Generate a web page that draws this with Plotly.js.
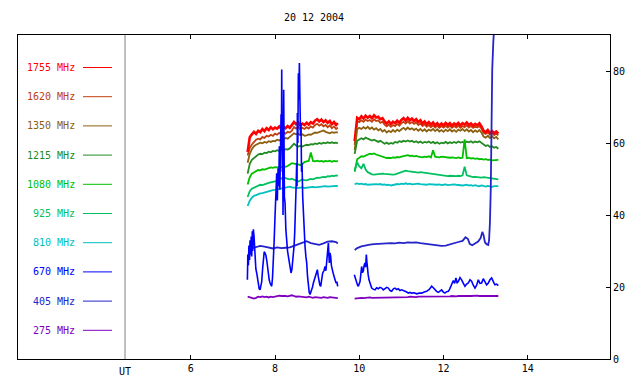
<!DOCTYPE html>
<html><head><meta charset="utf-8">
<script src="https://cdn.plot.ly/plotly-3.0.1.min.js"></script>
<style>html,body{margin:0;padding:0;background:#fff}#c{width:640px;height:384px}</style>
</head><body><div id="c"></div>
<script>
// time grids (hours UT)
const T1 = [7.35,7.40,7.45,7.50,7.55,7.60,7.65,7.70,7.75,7.80,7.85,7.90,7.95,8.00,8.05,8.10,8.15,8.20,8.25,8.30,8.35,8.40,8.45,8.50,8.55,8.60,8.65,8.70,8.75,8.80,8.85,8.90,8.95,9.00,9.05,9.10,9.15,9.20,9.25,9.30,9.35,9.40,9.45,9.49];
const T2 = [9.89,9.95,10.00,10.05,10.10,10.15,10.20,10.25,10.30,10.35,10.40,10.45,10.50,10.55,10.60,10.65,10.70,10.75,10.80,10.85,10.90,10.95,11.00,11.05,11.10,11.15,11.20,11.25,11.30,11.35,11.40,11.45,11.50,11.55,11.60,11.65,11.70,11.75,11.80,11.85,11.90,11.95,12.00,12.05,12.10,12.15,12.20,12.25,12.30,12.35,12.40,12.45,12.50,12.55,12.60,12.65,12.70,12.75,12.80,12.85,12.90,12.95,13.00,13.05,13.10,13.15,13.20,13.25,13.30];

const f1755a = [57.5,61.6,62.4,63.1,62.5,63.4,63.0,63.9,63.3,64.1,63.6,64.4,63.8,64.3,64.0,64.6,63.9,64.5,64.1,64.7,64.2,64.9,65.8,65.2,65.7,64.9,65.4,65.0,65.6,65.1,65.8,65.4,66.2,66.6,66.0,66.5,65.8,66.3,65.6,66.1,65.2,65.8,65.0,65.5];
const f1755b = [60.5,67.0,66.6,67.4,66.8,67.6,67.0,67.5,66.9,67.7,67.1,67.3,66.6,66.9,66.0,65.4,66.0,65.3,65.9,65.5,66.2,65.6,66.4,66.9,66.2,67.0,66.3,66.8,66.1,66.6,65.8,66.3,65.4,66.0,65.2,65.8,65.1,65.7,64.9,65.5,64.8,65.4,64.9,65.6,65.0,65.5,64.8,65.4,65.0,65.6,64.9,65.5,65.1,65.7,65.0,65.4,64.8,65.3,64.9,65.5,64.6,63.4,63.0,63.6,62.8,63.3,62.7,63.2,62.6];

const f1620a = [56.5,58.6,59.6,60.4,60.9,61.2,61.0,61.7,61.4,62.0,61.8,62.3,62.0,62.6,62.3,62.8,62.4,63.0,62.6,63.1,62.9,63.4,64.4,64.0,64.5,63.8,64.2,63.9,64.4,64.0,64.6,64.3,65.0,65.3,64.8,65.2,64.6,65.0,64.4,64.9,64.1,64.6,63.9,64.3];
const f1620b = [59.5,66.0,65.8,66.3,65.9,66.5,66.1,66.4,65.9,66.6,66.1,66.3,65.6,65.9,65.1,64.6,65.1,64.5,65.0,64.7,65.3,64.8,65.5,65.9,65.4,66.0,65.4,65.8,65.3,65.7,65.0,65.4,64.7,65.2,64.5,65.0,64.4,64.9,64.3,64.8,64.2,64.7,64.3,64.8,64.3,64.8,64.2,64.7,64.3,64.8,64.2,64.7,64.4,64.9,64.3,64.7,64.2,64.6,64.3,64.7,64.0,62.8,62.5,63.0,62.3,62.8,62.2,62.6,62.1];

const f1350a = [54.5,57.0,58.3,59.1,59.5,59.8,60.1,59.9,60.3,60.1,60.5,60.3,60.6,60.5,60.9,60.7,61.1,61.0,61.4,61.2,61.6,62.2,62.7,62.4,62.6,62.2,62.4,62.0,62.1,62.4,62.3,62.7,62.9,62.8,63.1,63.3,63.5,63.1,62.9,62.7,63.0,62.8,63.0,62.9];
const f1350b = [58.0,63.8,64.2,63.9,64.4,64.0,64.5,63.9,64.3,63.7,64.1,63.5,63.9,63.2,63.6,62.9,63.4,63.0,63.6,63.1,63.7,63.3,63.8,64.2,63.7,64.3,63.8,64.1,63.6,64.0,63.4,63.9,63.3,63.8,63.2,63.7,63.4,63.9,63.3,63.8,63.2,63.6,63.1,63.7,63.3,63.8,63.2,63.6,63.1,63.7,63.4,63.9,63.3,63.8,63.2,63.6,63.0,63.5,63.1,63.6,62.9,61.8,61.5,62.0,61.4,61.9,61.3,61.7,61.0];

const f1215a = [51.5,54.2,55.3,55.9,56.4,56.8,57.0,56.9,57.3,57.2,57.6,57.4,57.8,57.7,58.0,57.8,58.1,58.0,58.3,58.2,58.5,59.1,59.8,59.3,59.0,59.2,59.0,59.3,59.5,59.4,59.7,59.6,59.9,59.7,60.0,59.8,60.1,59.9,60.2,60.0,60.2,60.0,60.1,59.9];
const f1215b = [57.0,60.6,61.0,61.3,61.0,61.5,61.2,61.0,60.7,60.9,60.5,60.3,60.6,60.1,59.8,60.1,59.7,60.0,59.8,60.3,60.1,60.5,60.3,60.6,60.4,60.7,60.4,60.6,60.2,60.5,60.1,60.4,60.0,60.3,60.1,60.4,60.0,60.3,59.9,60.2,59.8,60.1,59.9,60.3,59.9,60.2,60.0,60.3,60.0,60.4,60.1,60.3,60.0,60.4,60.2,60.5,60.1,60.4,60.2,60.5,60.0,59.6,59.2,59.4,58.9,59.1,58.7,58.9,58.4];

const f1080a = [48.5,50.5,51.5,51.9,52.2,52.5,52.4,52.7,52.6,52.9,53.0,53.2,53.1,53.3,53.2,53.4,53.3,53.5,53.4,53.6,53.9,54.4,54.3,54.1,54.0,53.9,54.2,54.7,54.9,55.0,57.4,55.0,54.9,55.1,54.9,55.0,54.8,55.0,54.9,55.1,54.8,55.0,54.9,55.0];
const f1080b = [52.0,55.5,55.9,56.3,56.2,56.5,56.7,57.0,56.9,57.1,56.8,56.6,56.4,56.1,55.9,55.8,55.9,55.8,56.0,55.9,56.1,56.0,56.2,56.4,56.5,56.6,56.4,56.5,56.3,56.4,56.2,56.1,56.0,56.2,56.1,56.3,56.0,58.0,56.2,56.1,56.0,56.2,56.1,56.0,56.1,55.9,56.0,55.9,55.8,56.0,55.8,55.9,61.0,55.8,55.9,55.7,55.8,55.6,55.7,55.5,55.6,55.4,55.5,55.3,55.4,55.2,55.3,55.2,55.3];

const f925a = [45.0,46.6,47.3,47.6,47.9,48.1,48.4,48.3,48.6,48.7,48.9,49.0,49.2,49.3,49.5,49.8,50.2,50.1,50.3,50.0,49.9,50.1,49.8,49.5,49.3,49.6,49.9,49.7,49.6,49.8,50.0,49.9,50.2,50.4,50.3,50.5,50.6,50.5,50.8,50.7,50.9,50.8,51.0,50.9];
const f925b = [52.4,54.6,53.5,53.0,54.2,52.6,51.9,51.5,51.3,51.2,51.3,51.4,51.3,51.5,51.4,51.3,51.2,51.3,51.2,51.3,51.5,51.7,51.9,52.1,52.3,52.2,52.1,52.2,52.0,51.9,51.8,51.9,51.8,51.7,51.6,51.7,51.5,51.4,51.2,51.1,51.0,50.9,51.0,50.9,50.8,50.9,50.8,50.9,50.8,50.9,50.8,51.0,53.4,51.0,50.8,50.6,50.5,50.6,50.5,50.6,50.4,50.5,50.4,50.3,50.4,50.2,50.1,50.0,49.9];

const f810a = [42.5,44.0,44.8,45.3,45.5,45.8,46.0,46.1,46.3,46.4,46.6,46.7,46.9,47.0,47.1,47.3,47.4,47.5,47.7,47.8,47.9,47.7,47.6,47.7,47.5,47.6,47.7,47.5,47.6,47.7,47.6,47.8,47.7,47.8,47.9,47.8,47.9,48.0,47.9,48.0,48.1,48.0,48.1,48.0];
const f810b = [48.6,48.8,48.6,48.7,48.5,48.6,48.4,48.5,48.6,48.7,48.6,48.5,48.6,48.4,48.5,48.3,48.4,48.2,48.4,48.5,48.6,48.5,48.7,48.6,48.8,48.6,48.7,48.5,48.6,48.5,48.7,48.6,48.5,48.6,48.4,48.6,48.5,48.6,48.5,48.4,48.5,48.3,48.4,48.5,48.3,48.4,48.3,48.5,48.4,48.3,48.4,48.2,48.3,48.4,48.2,48.3,48.1,48.3,48.1,48.0,48.2,48.0,47.9,48.1,48.0,47.8,48.0,47.9,48.0];

const f275a = [17.3,17.1,16.9,16.8,17.0,17.3,17.2,17.4,17.2,17.3,17.1,17.3,17.2,17.4,17.5,17.6,17.5,17.6,17.5,17.4,17.6,17.7,17.5,17.3,17.4,17.3,17.1,17.2,17.1,17.3,17.2,17.0,17.2,17.1,17.2,17.0,17.2,17.1,17.0,17.2,17.1,16.9,17.0,16.9];
const f275b = [16.8,16.9,16.9,17.0,16.9,17.0,17.0,17.1,17.0,17.0,17.1,17.0,17.1,17.1,17.0,17.1,17.2,17.1,17.1,17.2,17.1,17.2,17.2,17.1,17.2,17.2,17.3,17.2,17.3,17.2,17.3,17.3,17.2,17.3,17.4,17.3,17.3,17.4,17.3,17.4,17.3,17.4,17.4,17.3,17.4,17.4,17.5,17.4,17.4,17.5,17.4,17.5,17.5,17.4,17.5,17.5,17.6,17.5,17.6,17.5,17.5,17.6,17.5,17.5,17.6,17.5,17.5,17.4,17.5];

const t405a = [7.35,7.40,7.45,7.55,7.65,7.75,7.85,7.95,8.05,8.15,8.25,8.35,8.45,8.55,8.65,8.75,8.85,8.95,9.05,9.15,9.25,9.35,9.45,9.49];
const f405a = [28.0,30.0,30.8,31.2,31.4,31.2,31.0,30.7,31.0,30.8,30.9,31.0,31.4,31.8,32.4,32.7,32.2,32.0,31.7,32.1,32.6,32.7,32.5,32.1];
const t405b = [9.89,9.95,10.05,10.15,10.25,10.35,10.45,10.55,10.65,10.75,10.85,10.95,11.05,11.15,11.25,11.35,11.45,11.55,11.65,11.75,11.85,11.95,12.05,12.15,12.25,12.35,12.45,12.52,12.58,12.62,12.68,12.75,12.82,12.88,12.92,12.95,12.98,13.02,13.06,13.08,13.10,13.12,13.14,13.155,13.18,13.20,13.24,13.28,13.30];
const f405b = [30.3,30.8,31.3,31.6,31.8,31.9,32.0,31.9,32.0,32.2,32.1,32.3,32.2,32.4,32.3,32.4,32.2,32.0,31.8,31.6,31.5,31.4,31.5,31.9,32.3,32.5,32.8,33.8,33.3,32.0,31.6,32.0,32.6,33.6,35.3,34.4,32.5,31.9,31.7,33.0,37.8,47.0,74.0,80.4,87.9,94,100,98,96];

const t670a = [7.344,7.355,7.368,7.38,7.395,7.407,7.42,7.435,7.447,7.46,
7.47,7.486,7.502,7.515,7.526,7.545,7.565,7.585,7.605,7.625,
7.645,7.665,7.684,7.705,7.724,7.743,7.763,7.783,7.803,7.822,
7.842,7.862,7.882,7.90,7.921,7.94,7.961,7.98,8.000,8.02,
8.040,8.055,8.072,8.088,8.103,8.115,8.127,8.135,8.143,8.151,
8.159,8.167,8.174,8.182,8.19,8.198,8.206,8.214,8.222,8.238,
8.257,8.277,8.297,8.317,8.337,8.356,8.38,8.40,8.42,8.436,
8.451,8.467,8.483,8.498,8.514,8.522,8.53,8.542,8.554,8.566,
8.578,8.586,8.593,8.605,8.617,8.629,8.641,8.657,8.673,8.692,
8.712,8.732,8.752,8.771,8.791,8.811,8.831,8.85,8.87,8.89,
8.91,8.94,8.973,9.005,9.025,9.044,9.064,9.084,9.108,9.131,
9.16,9.187,9.207,9.226,9.246,9.266,9.278,9.289,9.305,9.321,
9.337,9.353,9.376,9.40,9.424,9.448,9.468,9.487];
const f670a = [22.0,29.0,26.0,31.5,27.5,33.0,29.0,34.0,28.5,35.5,
30.0,36.0,34.0,30.0,27.6,25.0,23.9,22.0,21.1,19.5,
19.2,20.0,21.5,25.0,28.5,29.8,29.4,28.8,27.5,25.5,
23.9,22.0,21.1,20.5,20.2,22.5,26.7,33.0,39.6,46.0,
51.6,44.0,53.0,48.0,59.1,47.0,56.0,50.0,68.0,58.0,
80.4,62.0,52.0,58.0,40.0,55.0,74.8,60.0,45.0,43.3,
36.0,32.2,30.0,28.5,27.0,25.7,23.9,24.8,26.7,28.5,
31.3,35.0,39.6,47.0,54.4,48.0,68.3,60.0,79.4,72.0,
82.2,70.0,74.8,62.0,65.5,52.0,54.4,45.0,39.6,35.0,
31.3,28.5,26.7,23.0,20.2,18.5,17.9,18.5,19.2,20.0,
21.1,22.5,23.9,24.8,23.0,21.1,20.5,20.2,22.0,23.9,
24.5,25.7,24.5,26.7,29.0,32.2,29.0,26.7,29.5,28.5,
26.0,24.8,24.0,23.0,22.0,21.1,21.5,20.2];
const t670b = [9.882,9.91,9.938,9.958,9.977,9.997,10.017,10.036,10.056,10.076,
10.096,10.115,10.135,10.15,10.167,10.18,10.191,10.21,10.23,10.26,
10.294,10.33,10.373,10.41,10.452,10.49,10.531,10.57,10.61,10.65,
10.689,10.73,10.768,10.81,10.847,10.89,10.926,10.965,11.005,11.045,
11.085,11.125,11.164,11.2,11.243,11.3,11.361,11.42,11.48,11.54,
11.599,11.66,11.717,11.757,11.796,11.835,11.875,11.915,11.954,11.995,
12.033,12.073,12.113,12.145,12.176,12.205,12.231,12.262,12.294,12.322,
12.35,12.39,12.429,12.47,12.508,12.548,12.587,12.627,12.666,12.705,
12.745,12.785,12.824,12.864,12.903,12.942,12.982,13.022,13.062,13.1,
13.141,13.16,13.18,13.2,13.22,13.26,13.299];
const f670b = [23.4,22.0,21.1,20.5,20.2,20.8,21.5,23.5,25.7,24.0,
24.5,26.0,26.7,25.5,29.0,27.0,25.0,23.5,22.0,20.5,
19.7,19.4,19.2,19.8,19.5,19.9,19.7,19.2,19.5,19.9,
19.7,19.0,18.8,19.5,19.7,19.3,19.5,19.0,19.2,18.9,
18.8,18.6,18.3,18.5,18.3,18.4,18.1,18.3,18.3,18.6,
18.8,19.3,20.2,19.8,19.2,18.8,18.5,19.0,19.2,18.6,
18.3,18.7,18.8,19.4,20.2,21.0,21.8,21.0,22.5,21.2,
21.5,22.6,22.0,21.0,20.2,20.8,21.1,22.0,21.6,20.5,
19.7,20.5,22.0,21.0,21.1,22.3,21.6,20.6,21.1,22.0,
22.5,21.8,21.6,21.0,20.6,20.8,20.4];

const labels = ['1755 MHz','1620 MHz','1350 MHz','1215 MHz','1080 MHz','925 MHz','810 MHz','670 MHz','405 MHz','275 MHz'];
const colors = ['#ff0000','#c04010','#8b6010','#228b22','#00c000','#00c060','#00c0c0','#0000ff','#2424c8','#8000c0'];
const xTicks = [6,8,10,12,14];
const yTicks = [0,20,40,60,80];

function tr(xa, ya, xb, yb, color, w) {
  return {x: xa.concat([null], xb), y: ya.concat([null], yb), type: 'scatter', mode: 'lines',
    line: {color: color, width: w}, connectgaps: false, hoverinfo: 'skip', showlegend: false};
}
const data = [
  tr(T1, f1620a, T2, f1620b, colors[1], 1.8),
  tr(T1, f1755a, T2, f1755b, colors[0], 2.6),
  tr(T1, f1350a, T2, f1350b, colors[2], 1.8),
  tr(T1, f1215a, T2, f1215b, colors[3], 1.8),
  tr(T1, f1080a, T2, f1080b, colors[4], 1.8),
  tr(T1, f925a, T2, f925b, colors[5], 1.8),
  tr(T1, f810a, T2, f810b, colors[6], 1.8),
  tr(T1, f275a, T2, f275b, colors[9], 1.8),
  tr(t405a, f405a, t405b, f405b, colors[8], 1.8),
  tr(t670a, f670a, t670b, f670b, colors[7], 1.6)
];

const font = {family: 'DejaVu Sans Mono, monospace', size: 10, color: '#000'};
const L = 18, R = 610, TOP = 35, BOT = 359;
const px2x = p => (p - L) / (R - L);
const py2y = p => (BOT - p) / (BOT - TOP);

const shapes = [{type: 'line', xref: 'x', yref: 'paper', x0: 4.44, x1: 4.44, y0: 0, y1: 1,
  line: {color: '#808080', width: 1}}];
const annotations = [{text: 'UT', xref: 'x', yref: 'paper', x: 4.44, y: py2y(371), showarrow: false,
  xanchor: 'center', yanchor: 'middle', font: font}];
labels.forEach((lab, i) => {
  const py = 67.5 + 29.2 * i;
  shapes.push({type: 'line', xref: 'paper', yref: 'paper', x0: px2x(83), x1: px2x(112), y0: py2y(py), y1: py2y(py),
    line: {color: colors[i], width: 1}});
  annotations.push({text: lab, xref: 'paper', yref: 'paper', x: px2x(77), y: py2y(py), showarrow: false,
    xanchor: 'right', yanchor: 'middle', font: {family: font.family, size: 10, color: colors[i]}});
});

const layout = {
  width: 640, height: 384,
  margin: {l: L, r: 640 - R, t: TOP, b: 384 - BOT, pad: 0},
  paper_bgcolor: '#fff', plot_bgcolor: '#fff',
  title: {text: '20 12 2004', font: font, x: 0.5, xref: 'paper', xanchor: 'center', y: 1 - 17 / 384, yref: 'container', yanchor: 'middle'},
  xaxis: {range: [1.9, 15.95], tickvals: xTicks, ticktext: xTicks.map(String), ticks: 'inside', ticklen: 4, tickcolor: '#000',
    showline: true, linecolor: '#000', linewidth: 1, mirror: 'ticks', showgrid: false, zeroline: false, tickfont: font},
  yaxis: {range: [0, 90], side: 'right', tickvals: yTicks, ticktext: yTicks.map(String), ticks: 'inside', ticklen: 4, tickcolor: '#000',
    showline: true, linecolor: '#000', linewidth: 1, mirror: true, showgrid: false, zeroline: false, tickfont: font},
  shapes: shapes, annotations: annotations, showlegend: false
};
Plotly.newPlot('c', data, layout, {displayModeBar: false, staticPlot: true});
</script></body></html>
